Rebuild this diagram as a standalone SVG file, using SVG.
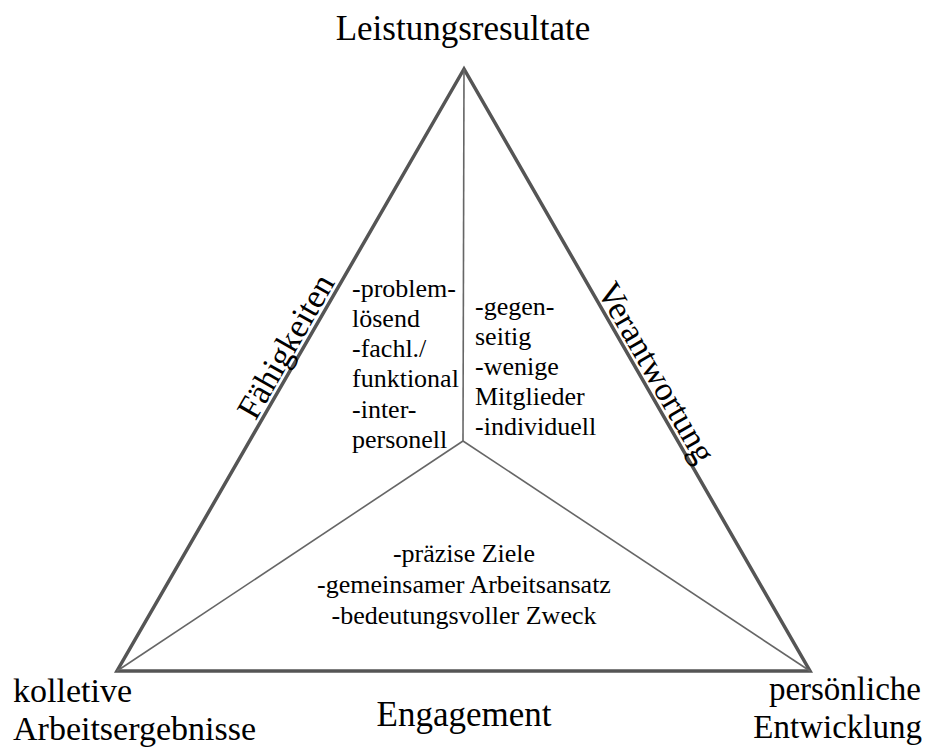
<svg xmlns="http://www.w3.org/2000/svg" width="935" height="747" viewBox="0 0 935 747">
  <style>
    .outer { fill: none; stroke: #555; stroke-width: 3.5; }
    .inner { fill: none; stroke: #666; stroke-width: 1.6; }
  </style>
  <rect width="935" height="747" fill="#fff"/>

  <!-- triangle frame and spokes -->
  <g id="connectors">
    <polygon class="outer" points="464,69 117,671 810,671"/>
    <line class="inner" x1="463" y1="441" x2="464" y2="69"/>
    <line class="inner" x1="463" y1="441" x2="117" y2="671"/>
    <line class="inner" x1="463" y1="441" x2="810" y2="671"/>
  </g>

  <!-- corner labels -->
  <g id="top">
    <text x="463" y="40" text-anchor="middle" font-family="Liberation Serif" font-size="35">Leistungsresultate</text>
  </g>
  <g id="bottom-left">
    <text x="13" y="702" font-family="Liberation Serif" font-size="34">kolletive</text>
    <text x="13" y="740" font-family="Liberation Serif" font-size="34">Arbeitsergebnisse</text>
  </g>
  <g id="bottom-right">
    <text x="921" y="700" text-anchor="end" font-family="Liberation Serif" font-size="33">persönliche</text>
    <text x="922" y="738" text-anchor="end" font-family="Liberation Serif" font-size="33">Entwicklung</text>
  </g>

  <!-- edge labels -->
  <g id="edge-left">
    <text text-anchor="middle" transform="translate(295.5,352) rotate(-60.1)" font-family="Liberation Serif" font-size="34">Fähigkeiten</text>
  </g>
  <g id="edge-right">
    <text text-anchor="middle" transform="translate(646.5,378) rotate(60.1)" font-family="Liberation Serif" font-size="34">Verantwortung</text>
  </g>
  <g id="edge-bottom">
    <text x="464" y="726" text-anchor="middle" font-family="Liberation Serif" font-size="35">Engagement</text>
  </g>

  <!-- sector contents -->
  <g id="sector-left">
    <text x="352" y="297" font-family="Liberation Serif" font-size="26">-problem-</text>
    <text x="352" y="327" font-family="Liberation Serif" font-size="26">lösend</text>
    <text x="352" y="357" font-family="Liberation Serif" font-size="26">-fachl./</text>
    <text x="352" y="387" font-family="Liberation Serif" font-size="26">funktional</text>
    <text x="352" y="418" font-family="Liberation Serif" font-size="26">-inter-</text>
    <text x="352" y="448" font-family="Liberation Serif" font-size="26">personell</text>
  </g>
  <g id="sector-right">
    <text x="475" y="315" font-family="Liberation Serif" font-size="26">-gegen-</text>
    <text x="475" y="345" font-family="Liberation Serif" font-size="26">seitig</text>
    <text x="475" y="375" font-family="Liberation Serif" font-size="26">-wenige</text>
    <text x="475" y="405" font-family="Liberation Serif" font-size="26">Mitglieder</text>
    <text x="475" y="435" font-family="Liberation Serif" font-size="26">-individuell</text>
  </g>
  <g id="sector-bottom">
    <text x="464" y="562" text-anchor="middle" font-family="Liberation Serif" font-size="26">-präzise Ziele</text>
    <text x="464" y="593" text-anchor="middle" font-family="Liberation Serif" font-size="26">-gemeinsamer Arbeitsansatz</text>
    <text x="464" y="624" text-anchor="middle" font-family="Liberation Serif" font-size="26">-bedeutungsvoller Zweck</text>
  </g>
</svg>
